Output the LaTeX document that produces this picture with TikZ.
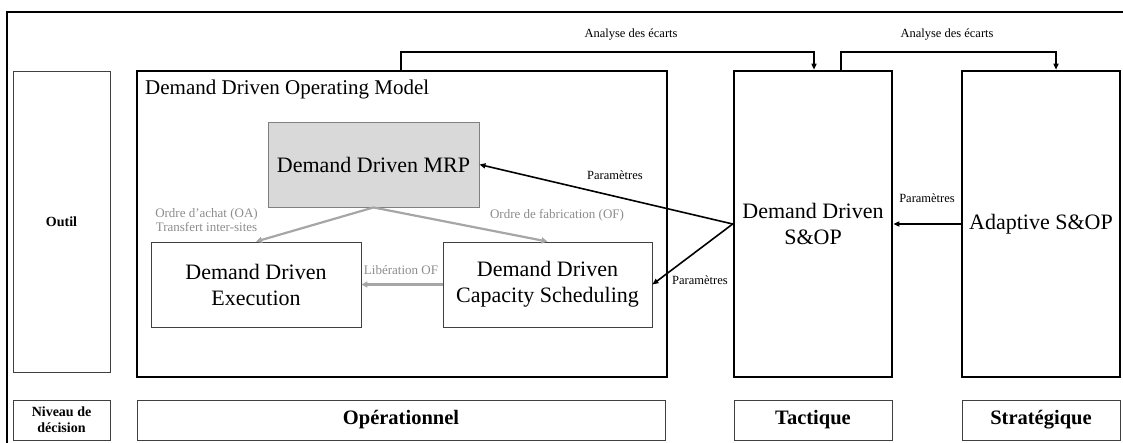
\documentclass[tikz,border=0pt]{standalone}
\usepackage{fontspec}
\setmainfont{Liberation Serif}
\usetikzlibrary{arrows.meta}
\definecolor{gtext}{HTML}{8C8C8C}
\definecolor{gline}{HTML}{A6A6A6}
\definecolor{gfill}{HTML}{D9D9D9}
\definecolor{bord}{HTML}{404040}
\begin{document}
\begin{tikzpicture}[x=1pt,y=-1pt,
  thickbox/.style={draw=black,line width=2.6pt,inner sep=0pt},
  thinbox/.style={draw=bord,line width=0.9pt,inner sep=0pt,align=center},
  big/.style={font=\fontsize{22}{26}\selectfont},
  small/.style={font=\fontsize{12.5}{14}\selectfont},
  glabel/.style={font=\fontsize{13}{14.5}\selectfont,text=gtext,align=center,inner sep=1pt},
  blabel/.style={font=\fontsize{12.5}{14}\selectfont,inner sep=1pt},
  lvl/.style={thinbox,font=\bfseries\fontsize{20.5}{24}\selectfont},
  garr/.style={draw=gline,line width=2.2pt,-{Triangle[length=6pt,width=6pt]}},
  karr/.style={draw=black,line width=1.6pt,-{Triangle[length=6pt,width=5pt]}},
  conn/.style={draw=black,line width=1.4pt,-{Triangle[length=6pt,width=5pt]}}
]
\useasboundingbox (0,0) rectangle (1123,442);
% outer frame (only top and left edges visible)
\draw[line width=1.4pt] (7,450) -- (7,12) -- (1130,12);

% left column
\node[thinbox,minimum width=97pt,minimum height=301pt,font=\bfseries\fontsize{14}{16}\selectfont] (outil) at (61.5,221.5) {Outil};
\node[thinbox,minimum width=97pt,minimum height=40pt,font=\bfseries\fontsize{14}{16}\selectfont] (niveau) at (61.5,420) {Niveau de\\décision};

% big boxes
\node[thickbox,minimum width=530pt,minimum height=306pt] (ddom) at (402,224) {};
\node[thickbox,minimum width=158pt,minimum height=306pt,big,align=center] (sop) at (813,224) {Demand Driven\\S\&OP};
\node[thickbox,minimum width=158pt,minimum height=306pt,big,align=center] (ada) at (1041,224) {Adaptive S\&OP};
\node[font=\fontsize{21}{25}\selectfont,anchor=west,inner sep=0pt] (ddomt) at (145,89) {Demand Driven Operating Model};

% level boxes
\node[lvl,minimum width=528pt,minimum height=40pt] (op) at (401,420) {Opérationnel};
\node[lvl,minimum width=158pt,minimum height=40pt] (tac) at (813,420) {Tactique};
\node[lvl,minimum width=158pt,minimum height=40pt] (str) at (1041,420) {Stratégique};

% inner boxes
\node[thinbox,fill=gfill,draw=gray,minimum width=211pt,minimum height=85pt,big] (mrp) at (373.5,164.5) {Demand Driven MRP};
\node[thinbox,minimum width=210pt,minimum height=85pt,big] (exe) at (256,284.5) {Demand Driven\\Execution};
\node[thinbox,minimum width=209pt,minimum height=85pt,big] (cap) at (547.5,284.5) {Demand Driven\\Capacity Scheduling};

% grey arrows
\draw[garr] (mrp.south) -- (exe.north);
\draw[garr] (mrp.south) -- (cap.north);
\draw[garr] (cap.west) -- (exe.east);
\node[glabel] (loa) at (206.5,220) {Ordre d’achat (OA)\\Transfert inter-sites};
\node[glabel] (lof) at (557,215) {Ordre de fabrication (OF)};
\node[glabel] (llib) at (401,270) {Libération OF};

% black parameter arrows
\draw[karr] (sop.west) -- (mrp.east);
\draw[karr] (sop.west) -- (cap.east);
\draw[karr] (ada.west) -- (sop.east);
\node[blabel] (p1) at (615,175) {Paramètres};
\node[blabel] (p2) at (700,280) {Paramètres};
\node[blabel] (p3) at (927,198) {Paramètres};

% gap-analysis connectors
\coordinate (a1) at (401,52);
\coordinate (b1) at (814,52);
\coordinate (a2) at (841,52);
\coordinate (b2) at (1056,52);
\draw[conn] (ddom.north -| a1) -- (a1) -- (b1) -- (sop.north -| b1);
\draw[conn] (sop.north -| a2) -- (a2) -- (b2) -- (ada.north -| b2);
\node[small] (e1) at (631,35) {Analyse des écarts};
\node[small] (e2) at (947,35) {Analyse des écarts};
\end{tikzpicture}
\end{document}
